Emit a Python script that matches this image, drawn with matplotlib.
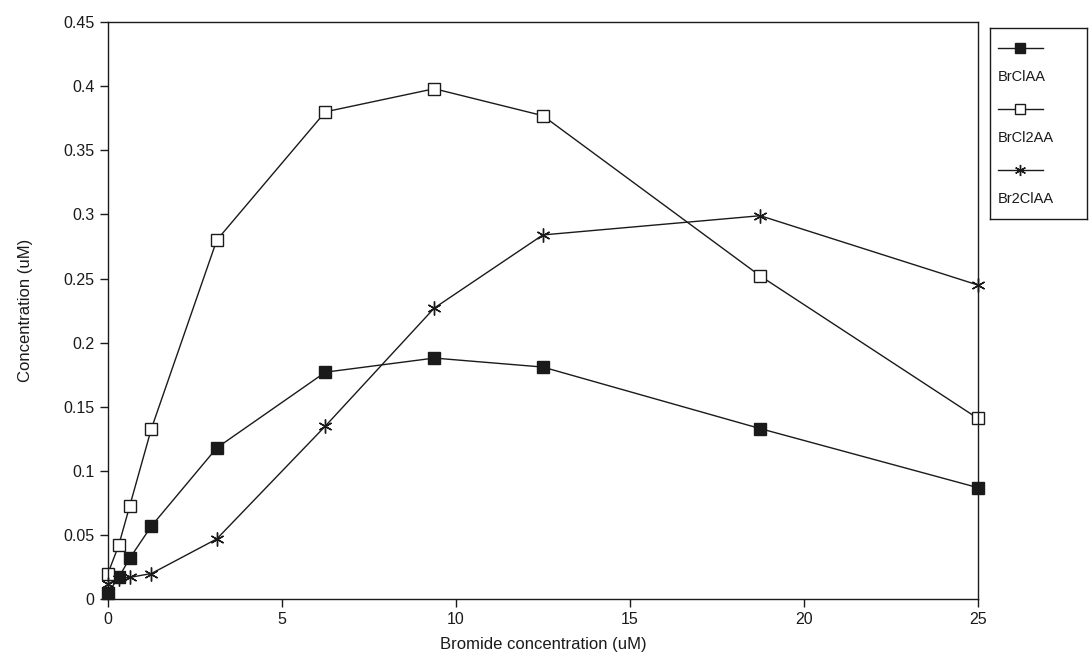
import matplotlib
matplotlib.use("Agg")
import matplotlib.pyplot as plt

plt.rcParams['font.family'] = ['Liberation Sans', 'DejaVu Sans']

# bromide dose (uM)
bromide = [0, 0.31, 0.63, 1.25, 3.13, 6.25, 9.38, 12.5, 18.75, 25]

brclaa = [0.005, 0.017, 0.032, 0.057, 0.118, 0.177, 0.188, 0.181, 0.133, 0.087]
brcl2aa = [0.020, 0.042, 0.073, 0.133, 0.280, 0.380, 0.398, 0.377, 0.252, 0.141]
br2claa = [0.012, 0.016, 0.017, 0.020, 0.047, 0.135, 0.227, 0.284, 0.299, 0.245]

series_names = ['BrClAA', 'BrCl2AA', 'Br2ClAA']

xticks = [0, 5, 10, 15, 20, 25]
yticks = [0, 0.05, 0.1, 0.15, 0.2, 0.25, 0.3, 0.35, 0.4, 0.45]
ytick_labels = ['0', '0.05', '0.1', '0.15', '0.2', '0.25', '0.3', '0.35', '0.4', '0.45']

ink = '#1a1a1a'
styles = [
    dict(marker='s', markersize=9, markerfacecolor=ink, markeredgecolor=ink),
    dict(marker='s', markersize=9, markerfacecolor='white', markeredgecolor=ink,
         markeredgewidth=1.0),
    dict(marker=(6, 2, 0), markersize=10, markeredgecolor=ink, markeredgewidth=1.0),
]

fig = plt.figure(figsize=(10.9, 6.68), dpi=100)
ax = fig.add_axes([0.099, 0.103, 0.798, 0.864])

for ys, st in zip([brclaa, brcl2aa, br2claa], styles):
    ax.plot(bromide, ys, color=ink, linewidth=1.0, clip_on=False, **st)

ax.set_xlim(0, 25)
ax.set_ylim(0, 0.45)
ax.set_xticks(xticks)
ax.set_yticks(yticks)
ax.set_yticklabels(ytick_labels)
ax.tick_params(direction='out', length=6, width=1.0, color=ink,
               labelsize=11.5, labelcolor=ink)
for sp in ax.spines.values():
    sp.set_linewidth(1.0)
    sp.set_color(ink)

ax.set_xlabel('Bromide concentration (uM)', fontsize=12, color=ink, labelpad=7)
ax.set_ylabel('Concentration (uM)', fontsize=12, color=ink, labelpad=22)

# legend panel: handle on one row, name on the row below
lax = fig.add_axes([0.908, 0.672, 0.089, 0.286])
lax.set_xlim(0, 97)
lax.set_ylim(191, 0)
lax.set_xticks([])
lax.set_yticks([])
for sp in lax.spines.values():
    sp.set_linewidth(1.0)
    sp.set_color(ink)

for i, (name, st) in enumerate(zip(series_names, styles)):
    y0 = 20 + i * 61
    lax.plot([8, 53], [y0, y0], color=ink, linewidth=1.0)
    lax.plot([30.5], [y0], color=ink, linestyle='none',
             **{**st, 'markersize': st['markersize'] * 0.8})
    lax.text(8, y0 + 29, name, fontsize=10.5, color=ink, va='center', ha='left')

fig.savefig('out.png', dpi=100)
